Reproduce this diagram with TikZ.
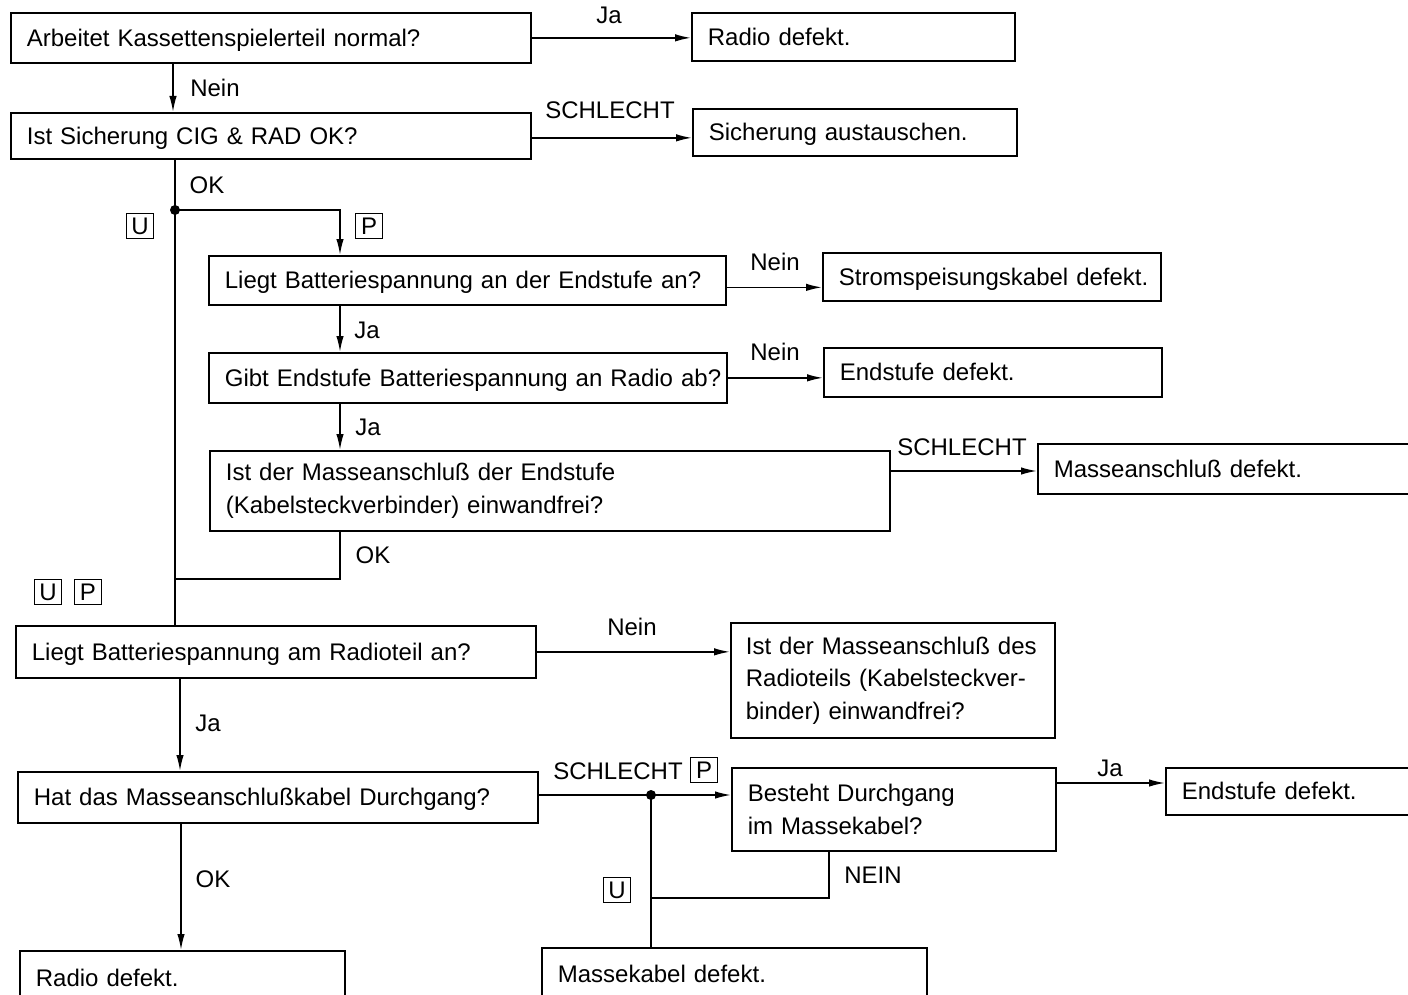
\documentclass[tikz,border=0pt]{standalone}
\usepackage{fontspec}
\setmainfont{Liberation Sans}
\usetikzlibrary{arrows.meta}

\newcommand\txt{\fontsize{24}{32.5}\selectfont\hyphenpenalty=10000 }
\newcommand\tagfont{\fontsize{24}{24}\selectfont}
% keep a one-line text on one line even when it is a little wider than the box
\newcommand\oneline[1]{\mbox{#1}}

\tikzset{
  box/.style={draw, line width=1.7pt, anchor=north west, align=left,
    inner xsep=16pt, inner ysep=0pt, font=\txt},
  single/.style={text height=18pt, text depth=1pt},
  ln/.style={line width=1.6pt},
  arr/.style={line width=1.6pt, -{Latex[length=16pt,width=7.5pt]}},
  lbl/.style={font=\txt, inner sep=0pt},
  tagbox/.style={draw, line width=1.7pt, inner sep=0pt, minimum width=27pt,
    minimum height=25pt, font=\tagfont},
  dot/.style={circle, fill, inner sep=0pt, minimum size=10pt}
}

\begin{document}
\begin{tikzpicture}[x=1pt, y=-1pt]
\useasboundingbox[fill=white] (0,0) rectangle (1408,995);

% ---- question and result boxes ----
\node[box, single, text width=488, minimum height=50] (A)  at (10,12)   {\oneline{Arbeitet Kassettenspielerteil normal?}};
\node[box, single, text width=291, minimum height=48] (R1) at (691,12)  {\oneline{Radio defekt.}};
\node[box, single, text width=488, minimum height=46] (B)  at (10,112)  {\oneline{Ist Sicherung CIG \& RAD OK?}};
\node[box, single, text width=292, minimum height=47] (SA) at (692,108) {\oneline{Sicherung austauschen.}};
\node[box, single, text width=485, minimum height=49] (C)  at (208,255) {\oneline{Liegt Batteriespannung an der Endstufe an?}};
\node[box, single, text width=306, minimum height=48] (S)  at (822,252) {\oneline{Stromspeisungskabel defekt.}};
\node[box, single, text width=486, minimum height=50] (D)  at (208,352) {\oneline{Gibt Endstufe Batteriespannung an Radio ab?}};
\node[box, single, text width=306, minimum height=49] (E1) at (823,347) {\oneline{Endstufe defekt.}};
\node[box, text width=648, minimum height=80] (E)  at (209,450) {Ist der Masseanschluß der Endstufe\\(Kabelsteckverbinder) einwandfrei?};
\node[box, single, text width=350, minimum height=50] (M)  at (1037,443) {\oneline{Masseanschluß defekt.}};
\node[box, single, text width=488, minimum height=52] (F)  at (15,625)  {\oneline{Liegt Batteriespannung am Radioteil an?}};
\node[box, text width=294, minimum height=115, inner xsep=15pt] (G) at (730,622) {Ist der Masseanschluß des\\Radioteils (Kabelsteckver-\\binder) einwandfrei?};
\node[box, single, text width=488, minimum height=51] (H)  at (17,771)  {\oneline{Hat das Masseanschlußkabel Durchgang?}};
\node[box, text width=292, minimum height=83] (I)  at (731,767) {Besteht Durchgang\\im Massekabel?};
\node[box, single, text width=230, minimum height=47] (E2) at (1165,767) {\oneline{Endstufe defekt.}};
\node[box, single, text width=353, minimum height=52] (MK) at (541,947) {\oneline{Massekabel defekt.}};
\node[box, single, text width=293, minimum height=54] (RD) at (19,950)  {\oneline{Radio defekt.}};

% ---- junctions and bends ----
\coordinate (split) at (175,210);
\coordinate (join)  at (175,579);
\coordinate (ejoin) at (340,579);
\coordinate (pturn) at (340,210);
\coordinate (hdot)  at (651,795);
\coordinate (nturn) at (829,898);
\coordinate (njoin) at (651,898);

% ---- connectors ----
\draw[arr] (A.east) -- (A.east -| R1.west);
\draw[arr] (A.south -| 173,0) -- (B.north -| 173,0);
\draw[arr] ([yshift=-2pt]B.east) -- ([yshift=-2pt]B.east -| SA.west);
\draw[ln]  (B.south -| split) -- (split) -- (join) -- (F.north -| join);
\draw[arr] (split) -- (pturn) -- (C.north -| pturn);
\draw[arr] ([yshift=-7pt]C.east) -- ([yshift=-7pt]C.east -| S.west);
\draw[arr] (C.south -| pturn) -- (D.north -| pturn);
\draw[arr] (D.east) -- (D.east -| E1.west);
\draw[arr] (D.south -| pturn) -- (E.north -| pturn);
\draw[arr] (E.east |- 0,471) -- (M.west |- 0,471);
\draw[ln]  (E.south -| ejoin) -- (ejoin) -- (join);
\draw[arr] (F.east) -- (F.east -| G.west);
\draw[arr] (F.south -| 180,0) -- (H.north -| 180,0);
\draw[arr] (H.east |- hdot) -- (I.west |- hdot);
\draw[arr] (I.east |- 0,783) -- (E2.west |- 0,783);
\draw[ln]  (I.south -| nturn) -- (nturn) -- (njoin);
\draw[ln]  (hdot) -- (MK.north -| hdot);
\draw[arr] (H.south -| 181,0) -- (RD.north -| 181,0);
\node[dot] (d1) at (split) {};
\node[dot] (d2) at (hdot) {};

% ---- branch labels ----
\node[lbl] (l1)  at (609,15)  {Ja};
\node[lbl] (l2)  at (215,88)  {Nein};
\node[lbl] (l3)  at (610,110) {SCHLECHT};
\node[lbl] (l4)  at (207,185) {OK};
\node[lbl] (l5)  at (775,262) {Nein};
\node[lbl] (l6)  at (367,330) {Ja};
\node[lbl] (l7)  at (775,352) {Nein};
\node[lbl] (l8)  at (368,427) {Ja};
\node[lbl] (l9)  at (962,447) {SCHLECHT};
\node[lbl] (l10) at (373,555) {OK};
\node[lbl] (l11) at (632,627) {Nein};
\node[lbl] (l12) at (208,723) {Ja};
\node[lbl] (l13) at (618,771) {SCHLECHT};
\node[lbl] (l14) at (1110,768) {Ja};
\node[lbl] (l15) at (873,875) {NEIN};
\node[lbl] (l16) at (213,879) {OK};

% ---- version tags ----
\node[tagbox] (t1) at (140,226) {U};
\node[tagbox] (t2) at (369,226) {P};
\node[tagbox] (t3) at (48,592)  {U};
\node[tagbox] (t4) at (88,592)  {P};
\node[tagbox] (t5) at (704,770) {P};
\node[tagbox] (t6) at (617,890) {U};
\end{tikzpicture}
\end{document}
